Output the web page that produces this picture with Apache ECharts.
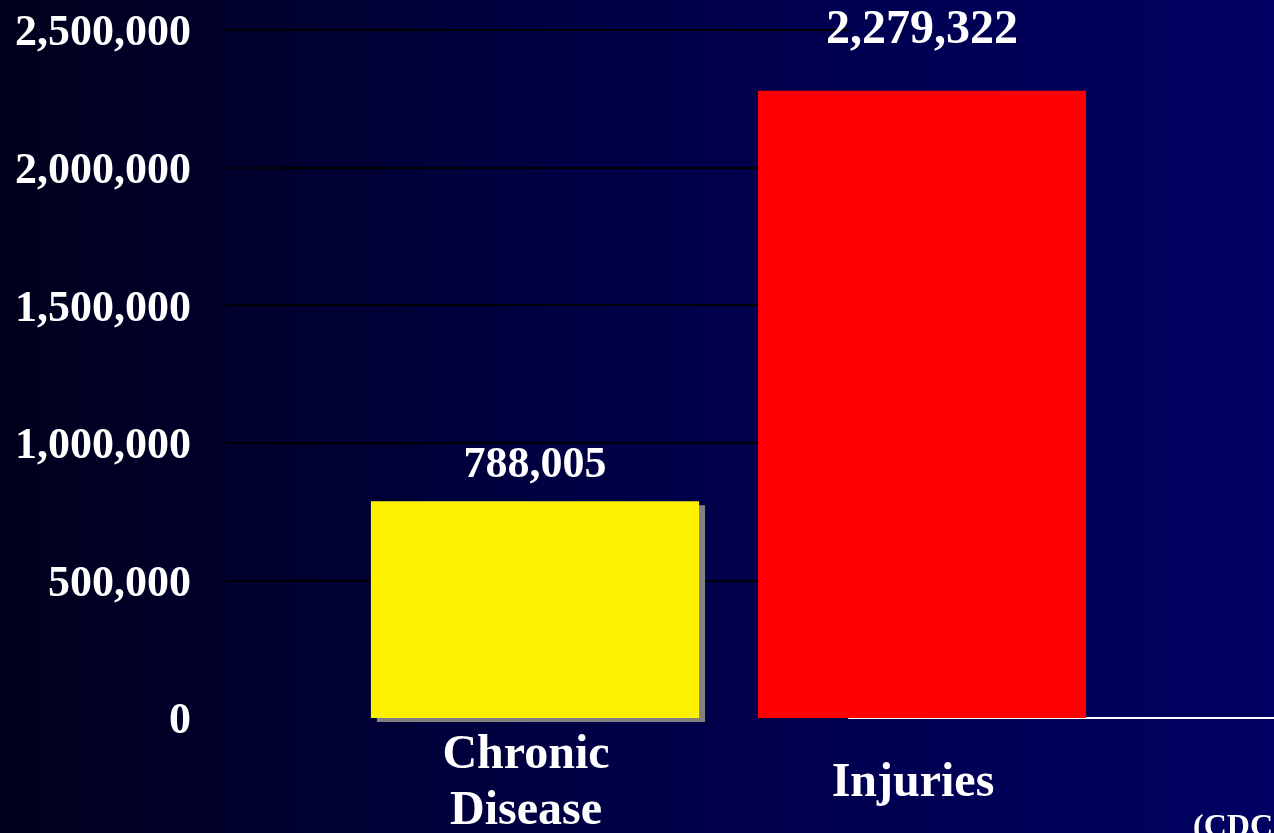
<!DOCTYPE html>
<html>
<head>
<meta charset="utf-8">
<title>Chronic Disease vs Injuries</title>
<script src="https://cdn.jsdelivr.net/npm/echarts@6/dist/echarts.min.js"></script>
<style>
  html, body { margin: 0; padding: 0; }
  #chartBox { width: 1274px; height: 833px; }
</style>
</head>
<body>
<div id="chartBox"></div>
<script>
// categories and values
const categories = ['Chronic\nDisease', 'Injuries']
const values = [788005, 2279322]
const barColors = ['#fff200', '#ff0000']
const yTicks = [0, 500000, 1000000, 1500000, 2000000, 2500000]

const serif = '"Liberation Serif", "Times New Roman", serif'
const yMax = yTicks[yTicks.length - 1]
const yStep = yTicks[1] - yTicks[0]

// number -> 2,279,322
function fmt(v) {
  return String(v).replace(/\B(?=(\d{3})+(?!\d))/g, ',')
}

let chart = echarts.init(document.getElementById('chartBox'))

// per bar styling (shadow only on the yellow one, label sizes differ)
let barData = values.map((v, i) => {
  let item = {
    value: v,
    itemStyle: { color: barColors[i] },
    label: {}
  }
  if (i === 0) {
    item.itemStyle.shadowColor = '#808080'
    item.itemStyle.shadowBlur = 0
    item.itemStyle.shadowOffsetX = 6
    item.itemStyle.shadowOffsetY = 4
    item.label.fontSize = 44
    item.label.distance = 14
  } else {
    item.label.fontSize = 48
    item.label.distance = 36
  }
  return item
})

// same box for every grid, labels may run off the slide
const gridBase = { top: 30, bottom: 115, outerBoundsMode: 'none', containLabel: false }

let option = {
  backgroundColor: new echarts.graphic.LinearGradient(0, 0, 1, 0, [
    { offset: 0, color: '#00001c' },
    { offset: 0.47, color: '#000046' },
    { offset: 1, color: '#000062' }
  ]),
  animation: false,
  grid: [
    // grid 0: y labels + black gridlines
    Object.assign({ left: 225, right: 425 }, gridBase),
    // grid 1: the bars
    Object.assign({ left: 341.5, right: 158.5 }, gridBase),
    // grid 2: white baseline on the right
    Object.assign({ left: 849, right: 0 }, gridBase)
  ],
  xAxis: [
    { gridIndex: 0, type: 'category', data: categories, show: false },
    {
      gridIndex: 1,
      type: 'category',
      data: categories,
      axisLine: { show: false },
      axisTick: { show: false },
      axisLabel: {
        color: '#ffffff',
        fontFamily: serif,
        fontWeight: 'bold',
        fontSize: 48,
        lineHeight: 56,
        verticalAlign: 'middle',
        margin: 66,
        padding: [0, 18, 0, 0]
      }
    },
    {
      gridIndex: 2,
      type: 'category',
      data: [''],
      axisLine: { show: true, lineStyle: { color: '#ffffff', width: 2 } },
      axisTick: { show: false },
      axisLabel: { show: false }
    }
  ],
  yAxis: [
    {
      gridIndex: 0,
      type: 'value',
      min: 0,
      max: yMax,
      interval: yStep,
      axisLine: { show: false },
      axisTick: { show: false },
      // no black line at zero on the slide
      splitLine: { showMinLine: false, lineStyle: { color: '#000000', width: 2 } },
      axisLabel: {
        color: '#ffffff',
        fontFamily: serif,
        fontWeight: 'bold',
        fontSize: 44,
        margin: 34,
        formatter: v => '{n|' + fmt(v) + '}',
        rich: {
          n: { fontFamily: serif, fontWeight: 'bold', fontSize: 44, color: '#ffffff', padding: [8, 0, 0, 0] }
        }
      }
    },
    { gridIndex: 1, type: 'value', min: 0, max: yMax, interval: yStep, show: false },
    { gridIndex: 2, type: 'value', min: 0, max: yMax, interval: yStep, show: false }
  ],
  series: [
    {
      type: 'bar',
      xAxisIndex: 1,
      yAxisIndex: 1,
      barWidth: '84.8%',
      data: barData,
      label: {
        show: true,
        position: 'top',
        color: '#ffffff',
        fontFamily: serif,
        fontWeight: 'bold',
        formatter: p => fmt(p.value)
      }
    }
  ],
  graphic: [
    // source note, cut off at the slide edge
    {
      type: 'text',
      left: 1193,
      top: 812,
      style: {
        text: '(CDC)',
        fill: '#ffffff',
        font: 'bold 32px ' + serif
      }
    }
  ]
}

chart.setOption(option)
</script>
</body>
</html>
